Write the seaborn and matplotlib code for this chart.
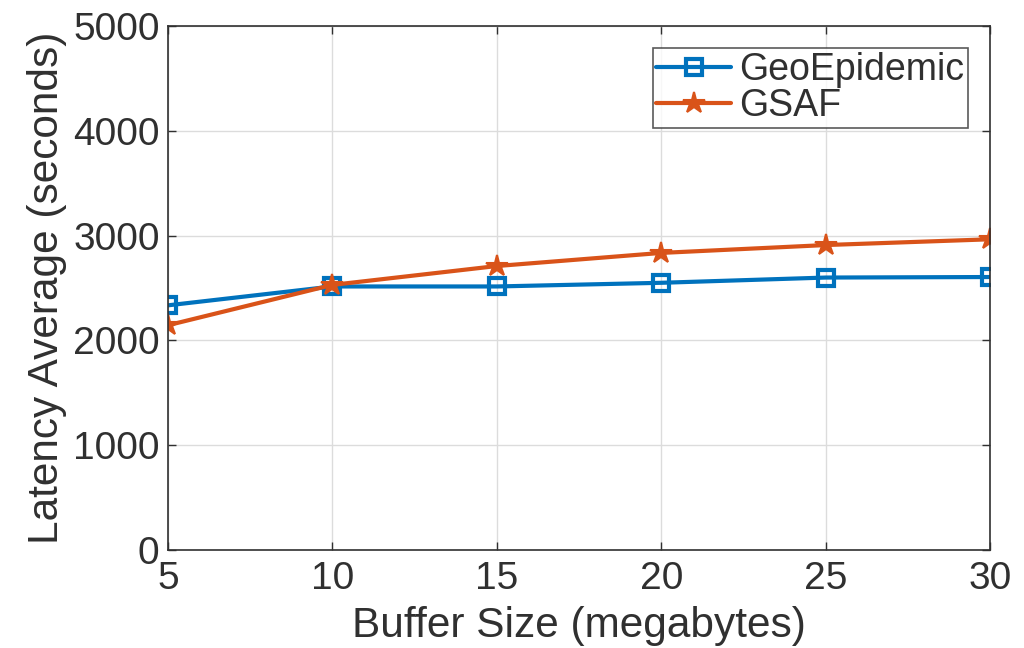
import matplotlib
matplotlib.use("Agg")
import matplotlib.pyplot as plt
import seaborn as sns
import pandas as pd

buffer_sizes = [5, 10, 15, 20, 25, 30]
geoepidemic = [2335, 2515, 2515, 2550, 2600, 2605]
gsaf = [2145, 2530, 2710, 2835, 2910, 2965]
x_ticks = [5, 10, 15, 20, 25, 30]
y_ticks = [0, 1000, 2000, 3000, 4000, 5000]

sns.set_theme(style="whitegrid")
plt.rcParams["font.family"] = ["Liberation Sans", "DejaVu Sans"]

df = pd.DataFrame({
    "Buffer": buffer_sizes * 2,
    "Latency": geoepidemic + gsaf,
    "Series": ["GeoEpidemic"] * len(buffer_sizes) + ["GSAF"] * len(buffer_sizes),
})

fig = plt.figure(figsize=(10.24, 6.48), dpi=100)
ax = fig.add_axes([0.164, 0.151, 0.803, 0.809])

palette = {"GeoEpidemic": "#0072BD", "GSAF": "#D95319"}
sns.lineplot(data=df[df.Series == "GeoEpidemic"], x="Buffer", y="Latency",
             color=palette["GeoEpidemic"], marker="s", markersize=12,
             markerfacecolor="none", markeredgecolor=palette["GeoEpidemic"],
             markeredgewidth=3, linewidth=3, label="GeoEpidemic", ax=ax)
sns.lineplot(data=df[df.Series == "GSAF"], x="Buffer", y="Latency",
             color=palette["GSAF"], marker="*", markersize=16,
             markerfacecolor=palette["GSAF"], markeredgecolor=palette["GSAF"],
             markeredgewidth=1.5, linewidth=3, label="GSAF", ax=ax)

text_color = "#303030"
ax.set_xlim(5, 30)
ax.set_ylim(0, 5000)
ax.set_xticks(x_ticks)
ax.set_yticks(y_ticks)
ax.set_xlabel("Buffer Size (megabytes)", fontsize=30.5, color=text_color, labelpad=6)
ax.set_ylabel("Latency Average (seconds)", fontsize=30.5, color=text_color, labelpad=4)
ax.tick_params(axis="both", labelsize=28, colors=text_color, direction="in",
               length=6, width=1, left=True, bottom=True, top=True, right=True)
ax.tick_params(axis="x", pad=8)
ax.tick_params(axis="y", pad=6)
ax.grid(True, color="#dcdcdc", linewidth=1)
for s in ax.spines.values():
    s.set_color(text_color)
    s.set_linewidth(1.2)
    s.set_visible(True)

leg = ax.legend(loc="upper right", fontsize=27, frameon=True, fancybox=False,
                edgecolor=text_color, handlelength=2.0, borderpad=0.1,
                labelspacing=0.0, handletextpad=0.2, borderaxespad=0.6)
leg.get_frame().set_linewidth(1.2)
for t in leg.get_texts():
    t.set_color(text_color)

fig.savefig("out.png", dpi=100)
